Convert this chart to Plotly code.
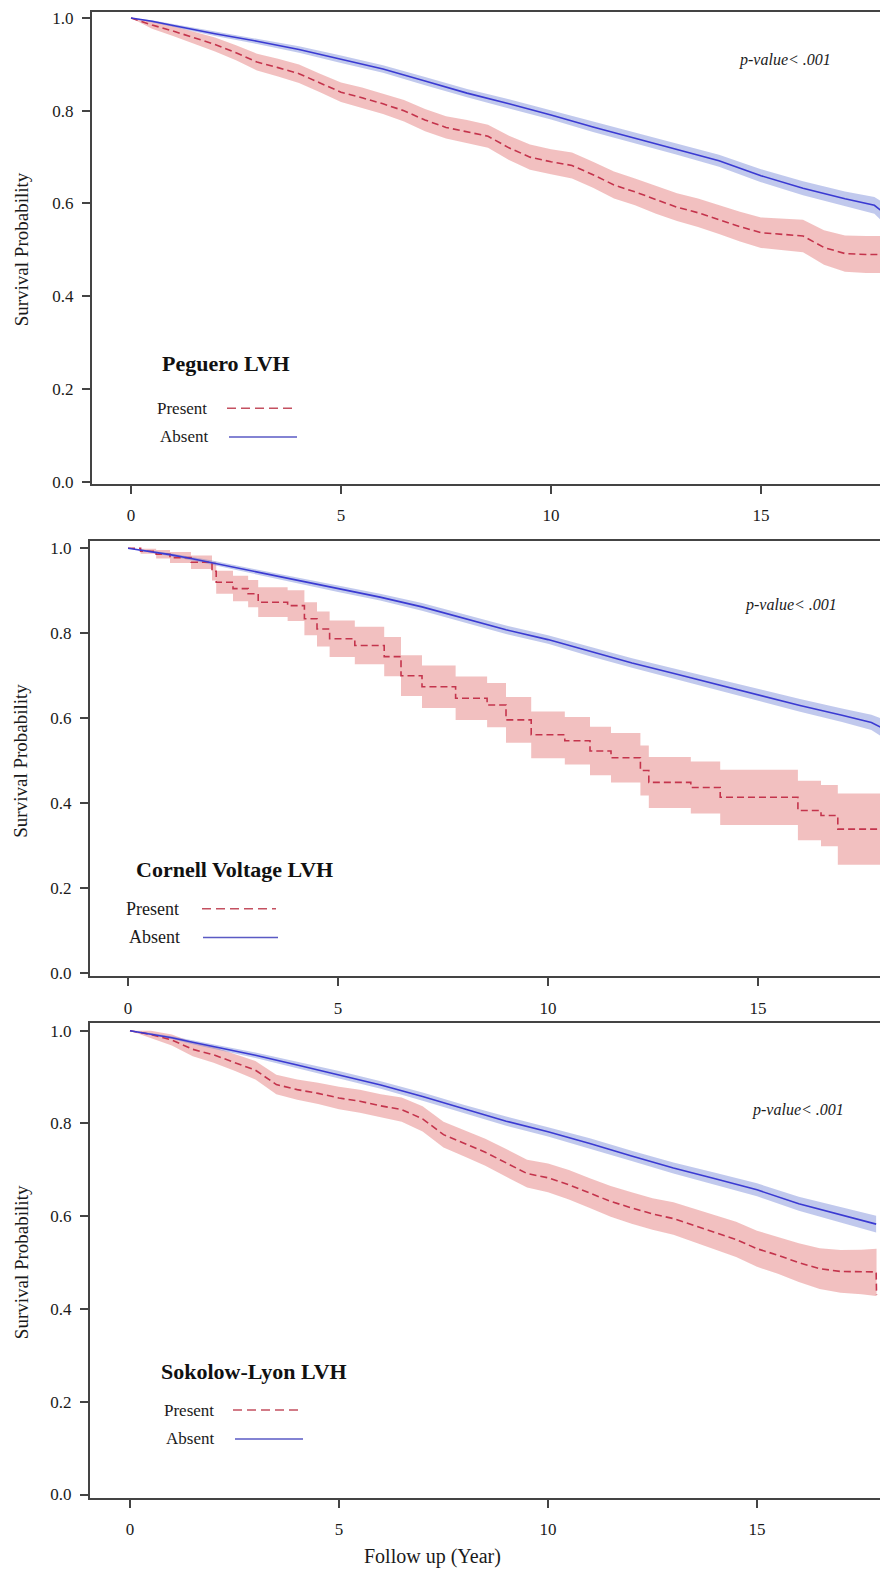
import plotly.graph_objects as go

PAGE_W, PAGE_H = 888, 1577
OFF = 8                       # default page margin around the plot div
W, H = PAGE_W - OFF, PAGE_H - OFF
FONT = "Liberation Serif"

# ---------------- data ----------------
x_ticks = [0, 5, 10, 15]
y_ticks = [0.0, 0.2, 0.4, 0.6, 0.8, 1.0]
y_ticklabels = ["0.0", "0.2", "0.4", "0.6", "0.8", "1.0"]
panel_titles = ["Peguero LVH", "Cornell Voltage LVH", "Sokolow-Lyon LVH"]
group_labels = ["Present", "Absent"]
p_text = "p-value< .001"

# Panel 1 - Peguero, Absent
t1a = [0, 0.5, 1, 1.5, 2, 3, 4, 5, 6, 7, 8, 9, 10, 11, 12, 13, 14, 15, 16, 17, 17.7, 17.95]
s1a = [1.000, 0.993, 0.984, 0.975, 0.966, 0.950, 0.932, 0.911, 0.890, 0.864, 0.838, 0.815, 0.791, 0.765, 0.741, 0.717, 0.692, 0.660, 0.633, 0.610, 0.596, 0.578]
lo1a = [1.000, 0.991, 0.981, 0.971, 0.961, 0.944, 0.925, 0.903, 0.882, 0.855, 0.829, 0.805, 0.781, 0.754, 0.730, 0.705, 0.679, 0.646, 0.618, 0.594, 0.578, 0.556]
up1a = [1.000, 0.995, 0.987, 0.979, 0.971, 0.956, 0.939, 0.919, 0.898, 0.873, 0.847, 0.825, 0.801, 0.776, 0.752, 0.729, 0.705, 0.674, 0.648, 0.626, 0.614, 0.600]

# Panel 1 - Peguero, Present
t1p = [0, 0.5, 1, 1.5, 2, 2.5, 3, 3.5, 4, 4.5, 5, 5.5, 6, 6.5, 7, 7.5, 8, 8.5, 9, 9.5, 10, 10.5, 11, 11.5, 12, 12.5, 13, 13.5, 14, 14.5, 15, 15.5, 16, 16.5, 17, 17.5, 17.95]
s1p = [1.000, 0.985, 0.972, 0.958, 0.943, 0.925, 0.905, 0.893, 0.880, 0.860, 0.840, 0.828, 0.815, 0.800, 0.780, 0.764, 0.755, 0.745, 0.720, 0.700, 0.690, 0.682, 0.662, 0.640, 0.625, 0.608, 0.592, 0.580, 0.565, 0.550, 0.537, 0.534, 0.530, 0.505, 0.492, 0.490, 0.490]
lo1p = [1.000, 0.977, 0.961, 0.945, 0.928, 0.909, 0.887, 0.874, 0.860, 0.840, 0.819, 0.806, 0.793, 0.777, 0.756, 0.740, 0.730, 0.720, 0.694, 0.673, 0.663, 0.654, 0.634, 0.611, 0.596, 0.578, 0.562, 0.549, 0.534, 0.518, 0.504, 0.500, 0.495, 0.468, 0.453, 0.450, 0.450]
up1p = [1.000, 0.993, 0.983, 0.971, 0.958, 0.941, 0.923, 0.912, 0.900, 0.880, 0.861, 0.850, 0.837, 0.823, 0.804, 0.788, 0.780, 0.770, 0.746, 0.727, 0.717, 0.710, 0.690, 0.669, 0.654, 0.638, 0.622, 0.611, 0.596, 0.582, 0.570, 0.568, 0.565, 0.542, 0.531, 0.530, 0.530]

# Panel 2 - Cornell, Absent
t2a = [0, 0.5, 1, 1.5, 2, 3, 4, 5, 6, 7, 8, 9, 10, 11, 12, 13, 14, 15, 16, 17, 17.7, 18.0]
s2a = [1.000, 0.993, 0.985, 0.976, 0.966, 0.945, 0.925, 0.905, 0.885, 0.862, 0.835, 0.808, 0.785, 0.757, 0.730, 0.705, 0.680, 0.656, 0.630, 0.607, 0.590, 0.575]
lo2a = [1.000, 0.991, 0.982, 0.972, 0.961, 0.939, 0.918, 0.897, 0.877, 0.853, 0.826, 0.798, 0.775, 0.746, 0.719, 0.693, 0.667, 0.642, 0.615, 0.591, 0.572, 0.553]
up2a = [1.000, 0.995, 0.988, 0.980, 0.971, 0.951, 0.932, 0.913, 0.893, 0.871, 0.844, 0.818, 0.795, 0.768, 0.741, 0.717, 0.693, 0.670, 0.645, 0.623, 0.608, 0.597]

# Panel 2 - Cornell, Present (step function)
t2p = [0, 0.3, 0.67, 1.0, 1.5, 2.0, 2.1, 2.5, 2.86, 3.1, 3.8, 4.2, 4.5, 4.8, 5.4, 6.1, 6.5, 7.0, 7.8, 8.55, 9.0, 9.6, 10.4, 11.0, 11.5, 12.2, 12.4, 13.4, 14.1, 15.95, 16.5, 16.9, 17.95]
s2p = [1.000, 0.993, 0.986, 0.978, 0.967, 0.946, 0.920, 0.905, 0.893, 0.873, 0.865, 0.834, 0.810, 0.787, 0.771, 0.745, 0.700, 0.674, 0.647, 0.631, 0.596, 0.561, 0.547, 0.523, 0.507, 0.477, 0.449, 0.437, 0.414, 0.383, 0.371, 0.339, 0.339]
lo2p = [1.000, 0.987, 0.976, 0.965, 0.951, 0.924, 0.893, 0.875, 0.861, 0.838, 0.829, 0.795, 0.769, 0.744, 0.727, 0.699, 0.652, 0.624, 0.596, 0.579, 0.542, 0.506, 0.491, 0.466, 0.449, 0.418, 0.389, 0.376, 0.349, 0.313, 0.299, 0.255, 0.255]
up2p = [1.000, 0.999, 0.996, 0.991, 0.983, 0.968, 0.947, 0.935, 0.925, 0.908, 0.901, 0.873, 0.851, 0.830, 0.815, 0.791, 0.748, 0.724, 0.698, 0.683, 0.650, 0.616, 0.603, 0.580, 0.565, 0.536, 0.509, 0.498, 0.479, 0.453, 0.443, 0.423, 0.423]

# Panel 3 - Sokolow-Lyon, Absent
t3a = [0, 0.5, 1, 1.5, 2, 3, 4, 5, 6, 7, 8, 9, 10, 11, 12, 13, 14, 15, 16, 17, 17.85]
s3a = [1.000, 0.993, 0.985, 0.975, 0.966, 0.947, 0.926, 0.905, 0.883, 0.858, 0.831, 0.805, 0.782, 0.757, 0.730, 0.704, 0.681, 0.657, 0.627, 0.603, 0.583]
lo3a = [1.000, 0.991, 0.982, 0.971, 0.961, 0.941, 0.919, 0.897, 0.875, 0.849, 0.822, 0.795, 0.772, 0.746, 0.719, 0.692, 0.668, 0.643, 0.612, 0.587, 0.565]
up3a = [1.000, 0.995, 0.988, 0.979, 0.971, 0.953, 0.933, 0.913, 0.891, 0.867, 0.840, 0.815, 0.792, 0.768, 0.741, 0.716, 0.694, 0.671, 0.642, 0.619, 0.601]

# Panel 3 - Sokolow-Lyon, Present
t3p = [0, 0.5, 1, 1.5, 2, 2.5, 3, 3.5, 4, 4.5, 5, 5.5, 6, 6.5, 7, 7.5, 8, 8.5, 9, 9.5, 10, 10.5, 11, 11.5, 12, 12.5, 13, 13.5, 14, 14.5, 15, 15.5, 16, 16.5, 17, 17.5, 17.85, 17.86]
s3p = [1.000, 0.992, 0.980, 0.960, 0.948, 0.932, 0.915, 0.884, 0.873, 0.865, 0.855, 0.848, 0.838, 0.830, 0.810, 0.776, 0.757, 0.738, 0.715, 0.692, 0.683, 0.668, 0.650, 0.632, 0.618, 0.605, 0.595, 0.580, 0.566, 0.550, 0.530, 0.516, 0.500, 0.487, 0.481, 0.480, 0.480, 0.430]
lo3p = [1.000, 0.984, 0.968, 0.945, 0.931, 0.914, 0.895, 0.863, 0.851, 0.842, 0.831, 0.823, 0.813, 0.804, 0.783, 0.748, 0.729, 0.709, 0.685, 0.662, 0.652, 0.636, 0.618, 0.599, 0.584, 0.571, 0.560, 0.544, 0.529, 0.512, 0.491, 0.476, 0.458, 0.443, 0.435, 0.432, 0.428, 0.428]
up3p = [1.000, 1.000, 0.992, 0.975, 0.965, 0.950, 0.935, 0.905, 0.895, 0.888, 0.879, 0.873, 0.863, 0.856, 0.837, 0.804, 0.785, 0.767, 0.745, 0.722, 0.714, 0.700, 0.682, 0.665, 0.652, 0.639, 0.630, 0.616, 0.603, 0.588, 0.569, 0.556, 0.542, 0.531, 0.527, 0.528, 0.530, 0.530]

# ---------------- styling ----------------
RED = "#c4344c"
RED_FILL = "rgba(232,140,140,0.55)"
BLUE = "#3a3ad2"
BLUE_FILL = "rgba(100,120,210,0.40)"
AXIS = "#444444"
TXT = "#1a1a1a"


def px(x):
    """page pixel x -> paper fraction"""
    return (x - OFF) / W


def py(y):
    """page pixel y -> paper fraction"""
    return 1 - (y - OFF) / H


panels = [
    dict(left=92, top=9, bottom=484, xr=[-0.929, 18.024], yr=[-0.0043, 1.013],
         series=[(t1p, s1p, lo1p, up1p, "linear"), (t1a, s1a, lo1a, up1a, "linear")],
         title_xy=(226, 363), pres_xy=(182, 408), pres_line=(227, 295),
         abs_xy=(184, 437), abs_line=(229, 297), p_xy=(785, 57), ycenter=248, lfs=17),
    dict(left=90, top=542, bottom=980, xr=[-0.905, 18.095], yr=[-0.007, 1.0164],
         series=[(t2p, s2p, lo2p, up2p, "hv"), (t2a, s2a, lo2a, up2a, "linear")],
         title_xy=(235, 873), pres_xy=(152, 912), pres_line=(202, 276),
         abs_xy=(154, 941), abs_line=(203, 278), p_xy=(791, 606), ycenter=763, lfs=18),
    dict(left=90, top=1027, bottom=1505, xr=[-0.957, 18.134], yr=[-0.0064, 1.017],
         series=[(t3p, s3p, lo3p, up3p, "linear"), (t3a, s3a, lo3a, up3a, "linear")],
         title_xy=(254, 1378), pres_xy=(189, 1417), pres_line=(233, 302),
         abs_xy=(190, 1446), abs_line=(235, 303), p_xy=(798, 1115), ycenter=1268, lfs=17),
]

fig = go.Figure()
annotations = []
shapes = []
layout_axes = {}

for i, p in enumerate(panels):
    k = "" if i == 0 else str(i + 1)
    xa, ya = "x" + k, "y" + k
    colors = [(RED, RED_FILL, "7px,4px"), (BLUE, BLUE_FILL, "solid")]
    for (t, s, lo, up, shape), (c, fc, dash) in zip(p["series"], colors):
        fig.add_trace(go.Scatter(x=t, y=lo, mode="lines", line=dict(width=0, shape=shape),
                                 hoverinfo="skip", showlegend=False, xaxis=xa, yaxis=ya))
        fig.add_trace(go.Scatter(x=t, y=up, mode="lines", line=dict(width=0, shape=shape),
                                 fill="tonexty", fillcolor=fc,
                                 hoverinfo="skip", showlegend=False, xaxis=xa, yaxis=ya))
    for (t, s, lo, up, shape), (c, fc, dash), name in zip(p["series"], colors, group_labels):
        fig.add_trace(go.Scatter(x=t, y=s, mode="lines", name=name,
                                 line=dict(color=c, width=1.6, dash=dash, shape=shape),
                                 showlegend=False, xaxis=xa, yaxis=ya))

    layout_axes["xaxis" + k] = dict(
        domain=[px(p["left"]), 1.0], range=p["xr"], anchor=ya,
        showline=True, linecolor=AXIS, linewidth=2, mirror=True,
        ticks="outside", ticklen=8, tickwidth=1.5, tickcolor=AXIS,
        tickvals=x_ticks, tickfont=dict(family=FONT, size=17, color=TXT),
        ticklabelstandoff=7, ticklabeloverflow="allow",
        showgrid=False, zeroline=False)
    layout_axes["yaxis" + k] = dict(
        domain=[py(p["bottom"]), py(p["top"])], range=p["yr"], anchor=xa,
        showline=True, linecolor=AXIS, linewidth=2,
        ticks="outside", ticklen=8, tickwidth=1.5, tickcolor=AXIS,
        tickvals=y_ticks, ticktext=y_ticklabels,
        tickfont=dict(family=FONT, size=17, color=TXT),
        ticklabelstandoff=5, ticklabeloverflow="allow",
        showgrid=False, zeroline=False)

    annotations.append(dict(text="Survival Probability", x=px(21), y=py(p["ycenter"]),
                            xref="paper", yref="paper", textangle=-90, showarrow=False,
                            xanchor="center", yanchor="middle",
                            font=dict(family=FONT, size=19, color=TXT)))
    annotations.append(dict(text="<i>" + p_text.replace("<", "&lt;") + "</i>",
                            x=px(p["p_xy"][0]), y=py(p["p_xy"][1]),
                            xref="paper", yref="paper", showarrow=False,
                            xanchor="center", yanchor="middle",
                            font=dict(family=FONT, size=16, color=TXT)))
    annotations.append(dict(text="<b>" + panel_titles[i] + "</b>",
                            x=px(p["title_xy"][0]), y=py(p["title_xy"][1]),
                            xref="paper", yref="paper", showarrow=False,
                            xanchor="center", yanchor="middle",
                            font=dict(family=FONT, size=22, color="#111111")))
    annotations.append(dict(text=group_labels[0], x=px(p["pres_xy"][0]), y=py(p["pres_xy"][1]),
                            xref="paper", yref="paper", showarrow=False,
                            xanchor="center", yanchor="middle",
                            font=dict(family=FONT, size=p["lfs"], color=TXT)))
    annotations.append(dict(text=group_labels[1], x=px(p["abs_xy"][0]), y=py(p["abs_xy"][1]),
                            xref="paper", yref="paper", showarrow=False,
                            xanchor="center", yanchor="middle",
                            font=dict(family=FONT, size=p["lfs"], color=TXT)))
    shapes.append(dict(type="line", xref="paper", yref="paper",
                       x0=px(p["pres_line"][0]), x1=px(p["pres_line"][1]),
                       y0=py(p["pres_xy"][1]), y1=py(p["pres_xy"][1]),
                       line=dict(color="#c45060", width=1.5, dash="9px,5px")))
    shapes.append(dict(type="line", xref="paper", yref="paper",
                       x0=px(p["abs_line"][0]), x1=px(p["abs_line"][1]),
                       y0=py(p["abs_xy"][1]), y1=py(p["abs_xy"][1]),
                       line=dict(color="#5a5ac4", width=1.5)))

annotations.append(dict(text="Follow up (Year)", x=px(432), y=py(1564),
                        xref="paper", yref="paper", showarrow=False,
                        xanchor="center", yanchor="middle",
                        font=dict(family=FONT, size=20, color=TXT)))

fig.update_layout(
    width=W, height=H,
    margin=dict(l=0, r=0, t=0, b=0),
    paper_bgcolor="white", plot_bgcolor="white",
    showlegend=False,
    annotations=annotations, shapes=shapes,
    **layout_axes,
)

fig.write_html("out.html")
